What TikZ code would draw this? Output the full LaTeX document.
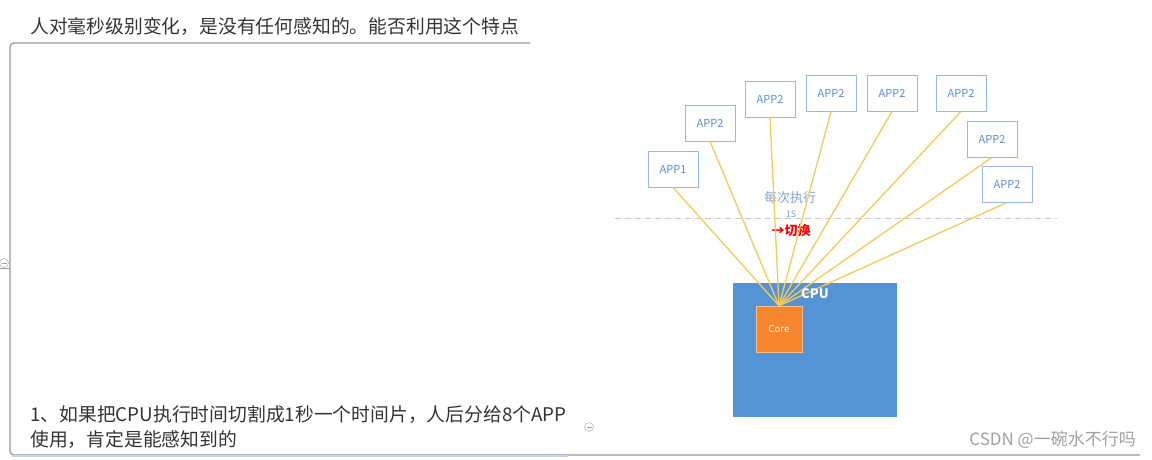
\documentclass[tikz,border=0pt]{standalone}
\usepackage{fontspec}
\setmainfont{Noto Sans CJK SC}
\definecolor{textgray}{RGB}{51,51,51}
\definecolor{framegray}{RGB}{150,150,150}
\definecolor{bluebar}{RGB}{196,212,236}
\definecolor{cpublue}{RGB}{84,148,214}
\definecolor{coreorange}{RGB}{245,134,46}
\definecolor{coreedge}{RGB}{250,190,140}
\definecolor{lineyellow}{RGB}{246,202,86}
\definecolor{appborder}{RGB}{150,185,228}
\definecolor{apptext}{RGB}{92,140,208}
\definecolor{labelblue}{RGB}{130,164,210}
\definecolor{dashgray}{RGB}{200,200,200}
\definecolor{marksgray}{RGB}{160,160,160}
\begin{document}
\begin{tikzpicture}[x=1pt,y=-1pt]
	\useasboundingbox (0,0) rectangle (1152,459);
	\node[anchor=west, inner sep=0, text=textgray, font=\fontsize{18.8}{22}\selectfont] (title) at (30,27) {人对毫秒级别变化，是没有任何感知的。能否利用这个特点};
	\draw[framegray, line width=1.2pt, rounded corners=4pt] (530,43) -- (10,43) -- (10,455) -- (1140,455);
	\coordinate (barl) at (12,456);
	\coordinate (barr) at (568,456);
	\draw[bluebar, line width=2pt] (barl) -- (barr);
	\begin{scope}[every node/.style={circle, draw=marksgray, minimum size=9pt, inner sep=0}]
		\node (fold1) at (4,263) {};
		\node (fold2) at (589,427) {};
	\end{scope}
	\draw[marksgray] ([xshift=-2.5pt]fold1.center) -- ([xshift=2.5pt]fold1.center);
	\draw[marksgray] ([xshift=-2.5pt]fold2.center) -- ([xshift=2.5pt]fold2.center);
	\coordinate (hookl) at (0,268);
	\coordinate (hookr) at (10,268);
	\draw[marksgray] (hookl) -- (hookr);
	\node[anchor=west, inner sep=0, text=textgray, font=\fontsize{18.8}{22}\selectfont] (step1) at (30,415) {1、如果把CPU执行时间切割成1秒一个时间片，人后分给8个APP};
	\node[anchor=west, inner sep=0, text=textgray, font=\fontsize{18.8}{22}\selectfont] (step1b) at (30,440) {使用，肯定是能感知到的};
	\node[anchor=east, inner sep=0, text=marksgray, font=\fontsize{17}{20}\selectfont] (mark) at (1136,440) {CSDN @一碗水不行吗};
	\begin{scope}[every node/.style={draw=appborder, line width=0.8pt, text=apptext, font=\fontsize{11}{13}\selectfont, minimum width=50pt, minimum height=36pt, inner sep=0}]
		\node (app1) at (673,169) {APP1};
		\node (app2) at (710,123) {APP2};
		\node (app3) at (770,99) {APP2};
		\node (app4) at (831,93) {APP2};
		\node (app5) at (892,93) {APP2};
		\node (app6) at (961,93) {APP2};
		\node (app7) at (992,139) {APP2};
		\node (app8) at (1007,184) {APP2};
	\end{scope}
	\coordinate (dashl) at (615,218);
	\coordinate (dashr) at (1057,218);
	\draw[dashgray, line width=1pt, dash pattern=on 6pt off 4pt] (dashl) -- (dashr);
	\node[text=labelblue, font=\fontsize{13}{15}\selectfont] (each) at (790,198) {每次执行};
	\node[text=labelblue, font=\fontsize{9}{10}\selectfont] (onesec) at (791,214) {1S};
	\node[text=red, font=\bfseries\fontsize{13}{15}\selectfont] (switch) at (791,231) {→切换};
	\node[fill=cpublue, minimum width=164pt, minimum height=134pt, inner sep=0] (cpu) at (815,350) {};
	\node[fill=coreorange, draw=coreedge, minimum size=46pt, inner sep=0, text=white, font=\fontsize{9.5}{11}\selectfont] (core) at (779,329) {Core};
	\begin{scope}[every edge/.style={draw=lineyellow, line width=1.3pt}]
		\path (app1.south) edge (core.north);
		\path (app2.south) edge (core.north);
		\path (app3.south) edge (core.north);
		\path (app4.south) edge (core.north);
		\path (app5.south) edge (core.north);
		\path (app6.south) edge (core.north);
		\path (app7.south) edge (core.north);
		\path (app8.south) edge (core.north);
	\end{scope}
	\node[text=white, font=\bfseries\fontsize{13}{15}\selectfont] (cpulabel) at (815,294) {CPU};
\end{tikzpicture}
\end{document}
